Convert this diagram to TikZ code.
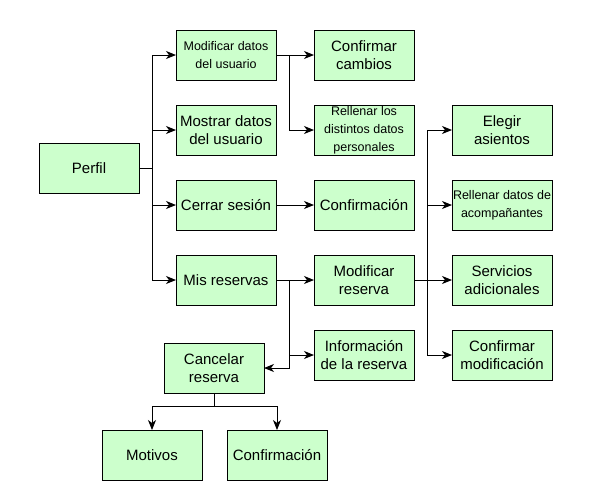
\documentclass[tikz,border=0pt]{standalone}
\usepackage{fontspec}
\setmainfont{Liberation Sans}
\usetikzlibrary{positioning, arrows.meta}
\definecolor{boxgreen}{RGB}{204,255,204}
\tikzset{
    box/.style={draw, line width=1pt, fill=boxgreen, minimum width=100pt, minimum height=50pt, inner sep=1pt, outer sep=0pt, align=center, font=\fontsize{15}{18}\selectfont}, % every box of the menu
    small/.style={font=\fontsize{12.5}{18}\selectfont}, % boxes with longer text
    link/.style={-{Stealth[length=10pt, width=8pt, inset=3pt]}, line width=1pt}, % the connectors
    node distance=25pt and 38pt,
}
\begin{document}
\begin{tikzpicture}[x=1pt, y=1pt]
    \useasboundingbox (0,0) rectangle (602,-499);
    % first column
    \node[box] (perfil) at (89,-168) {Perfil};
    % second column
    \node[box, small] (moddatos) at (226,-55) {Modificar datos\\del usuario};
    \node[box, below=of moddatos] (mostrar) {Mostrar datos\\del usuario};
    \node[box, below=of mostrar] (sesion) {Cerrar sesión};
    \node[box, below=of sesion] (misres) {Mis reservas};
    % third column
    \node[box, right=of moddatos] (cambios) {Confirmar\\cambios};
    \node[box, small, right=of mostrar] (rellenar) {Rellenar los\\distintos datos\\personales};
    \node[box, right=of sesion] (confsesion) {Confirmación};
    \node[box, right=of misres] (modres) {Modificar\\reserva};
    \node[box, below=of modres] (infores) {Información\\de la reserva};
    % fourth column
    \node[box, right=of rellenar] (asientos) {Elegir\\asientos};
    \node[box, small, right=of confsesion] (acomp) {Rellenar datos de\\acompañantes};
    \node[box, right=of modres] (servicios) {Servicios\\adicionales};
    \node[box, right=of infores] (confmod) {Confirmar\\modificación};
    % cancel branch
    \node[box] (cancelar) at (214,-368) {Cancelar\\reserva};
    \node[box] (motivos) at (152,-455) {Motivos};
    \node[box] (confcancel) at (277,-455) {Confirmación};

    \draw[link] (perfil.east) -- ++(13,0) |- (moddatos.west);
    \draw[link] (perfil.east) -- ++(13,0) |- (mostrar.west);
    \draw[link] (perfil.east) -- ++(13,0) |- (sesion.west);
    \draw[link] (perfil.east) -- ++(13,0) |- (misres.west);

    \draw[link] (moddatos.east) -- (cambios.west);
    \draw[link] (moddatos.east) -- ++(13,0) |- (rellenar.west);
    \draw[link] (sesion.east) -- (confsesion.west);
    \draw[link] (misres.east) -- (modres.west);
    \draw[link] (misres.east) -- ++(13,0) |- (infores.west);
    \draw[link] (misres.east) -- ++(13,0) |- (cancelar.east);

    \draw[link] (modres.east) -- ++(13,0) |- (asientos.west);
    \draw[link] (modres.east) -- ++(13,0) |- (acomp.west);
    \draw[link] (modres.east) -- (servicios.west);
    \draw[link] (modres.east) -- ++(13,0) |- (confmod.west);

    \draw[link] (cancelar.south) -- ++(0,-13) -| (motivos.north);
    \draw[link] (cancelar.south) -- ++(0,-13) -| (confcancel.north);
\end{tikzpicture}
\end{document}
